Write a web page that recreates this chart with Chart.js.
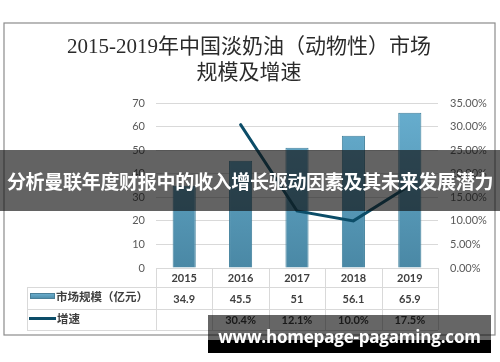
<!DOCTYPE html>
<html>
<head>
<meta charset="utf-8">
<script src="https://cdn.jsdelivr.net/npm/chart.js@4/dist/chart.umd.min.js"></script>
<style>
  body { margin:0; background:#fff; }
  #wrap { position:relative; width:500px; height:362px; overflow:hidden; }
  #banner { position:absolute; left:0; top:150px; width:500px; height:61px; background:rgba(15,15,15,0.65);
    color:#fff; font:bold 19px "Noto Sans CJK SC", sans-serif; line-height:61px; text-align:center; white-space:nowrap; letter-spacing:-0.3px; }
  #mark { position:absolute; left:208px; top:315px; width:283px; height:38px; background:rgba(0,0,0,0.6); overflow:hidden; }
  #mark .low { position:absolute; left:0; top:25px; width:100%; height:13px; background:#000; }
  #mark .txt { position:absolute; left:0; top:0; width:100%; height:38px; text-align:center;
    color:#fff; font:bold 17px "Open Sans", sans-serif; line-height:44px; white-space:nowrap; letter-spacing:-0.2px; }
</style>
</head>
<body>
<div id="wrap">
  <canvas id="c" width="500" height="362"></canvas>
  <div id="banner">分析曼联年度财报中的收入增长驱动因素及其未来发展潜力</div>
  <div id="mark"><div class="low"></div><div class="txt">www.homepage-pagaming.com</div></div>
</div>
<script>
// data
const years = ['2015', '2016', '2017', '2018', '2019'];
const marketSize = [34.9, 45.5, 51, 56.1, 65.9];      // 亿元
const growthRate = [null, 30.4, 12.1, 10.0, 17.5];    // %
const sizeLabel = '市场规模（亿元）';
const growthLabel = '增速';
const titleLines = ['2015-2019年中国淡奶油（动物性）市场', '规模及增速'];

const LINE = '#0c4d68';
const TXT = '#595959';
const GRID = '#d9d9d9';

function barGradient(ctx, area) {
  const g = ctx.createLinearGradient(0, area.top, 0, area.bottom);
  g.addColorStop(0, '#68afd0');
  g.addColorStop(1, '#4a88a5');
  return g;
}

const decor = {
  id: 'decor',
  beforeDraw(chart) {
    const ctx = chart.ctx;
    ctx.save();
    ctx.fillStyle = '#fff';
    ctx.fillRect(0, 0, chart.width, chart.height);
    ctx.strokeStyle = '#8c8c8c';
    ctx.lineWidth = 1.2;
    ctx.strokeRect(4, 23, 491, 312);
    // title
    ctx.fillStyle = '#2b2b2b';
    ctx.textAlign = 'center';
    ctx.textBaseline = 'middle';
    ctx.font = '21px "Liberation Serif", "Noto Sans CJK SC", serif';
    ctx.fillText(titleLines[0], 249, 47);
    ctx.fillText(titleLines[1], 249, 73);
    ctx.restore();
  },
  afterDraw(chart) {
    const ctx = chart.ctx;
    const x = chart.scales.x, a = chart.chartArea;
    const step = (a.right - a.left) / years.length;
    const r0 = a.bottom, r1 = 287, r2 = 309, r3 = 330, lx = 27;
    ctx.save();
    ctx.strokeStyle = GRID;
    ctx.lineWidth = 1;
    const h = (y, x0, x1) => { ctx.beginPath(); ctx.moveTo(x0, y + 0.5); ctx.lineTo(x1, y + 0.5); ctx.stroke(); };
    const v = (xx, y0, y1) => { ctx.beginPath(); ctx.moveTo(Math.round(xx) + 0.5, y0); ctx.lineTo(Math.round(xx) + 0.5, y1); ctx.stroke(); };
    h(r0, a.left, a.right);
    h(r1, lx, a.right);
    h(r2, lx, a.right);
    h(r3, lx, a.right);
    v(lx, r1, r3);
    for (let i = 0; i <= years.length; i++) v(a.left + i * step, r0, r3);

    ctx.fillStyle = '#404040';
    ctx.textAlign = 'center';
    ctx.textBaseline = 'middle';
    ctx.font = 'bold 11px Lato, sans-serif';
    years.forEach((yr, i) => {
      const cx = x.getPixelForValue(i);
      ctx.fillText(yr, cx, (r0 + r1) / 2 + 1);
      ctx.fillText(String(marketSize[i]), cx, (r1 + r2) / 2 + 1);
      if (growthRate[i] != null) ctx.fillText(growthRate[i].toFixed(1) + '%', cx, (r2 + r3) / 2 + 1);
    });

    // legend keys
    const g = ctx.createLinearGradient(0, 293, 0, 299);
    g.addColorStop(0, '#6fb3d3');
    g.addColorStop(1, '#4a88a5');
    ctx.fillStyle = g;
    ctx.fillRect(30, 293, 25, 6);
    ctx.strokeStyle = '#4a7f98';
    ctx.strokeRect(30.5, 293.5, 24, 5);
    ctx.strokeStyle = LINE;
    ctx.lineWidth = 3;
    ctx.beginPath(); ctx.moveTo(29, 318.5); ctx.lineTo(56, 318.5); ctx.stroke();

    ctx.fillStyle = '#404040';
    ctx.textAlign = 'left';
    ctx.font = 'bold 11.5px "Noto Sans CJK SC", sans-serif';
    ctx.fillText(sizeLabel, 56, 297);
    ctx.fillText(growthLabel, 57, 319);
    ctx.restore();
  }
};

new Chart(document.getElementById('c'), {
  data: {
    labels: years,
    datasets: [
      {
        type: 'line', label: growthLabel, data: growthRate, yAxisID: 'y1', order: 0,
        borderColor: LINE, borderWidth: 3, pointRadius: 0, tension: 0, spanGaps: false,
        borderCapStyle: 'round'
      },
      {
        type: 'bar', label: sizeLabel, data: marketSize, yAxisID: 'y', order: 1,
        backgroundColor: c => c.chart.chartArea ? barGradient(c.chart.ctx, c.chart.chartArea) : '#5a9cbd',
        borderColor: '#41809c', borderWidth: 1,
        categoryPercentage: 1, barPercentage: 0.41
      }
    ]
  },
  options: {
    responsive: false,
    animation: false,
    layout: { padding: { top: 103, bottom: 94, left: 0, right: 0 } },
    plugins: { legend: { display: false }, tooltip: { enabled: false } },
    scales: {
      x: { display: false },
      y: {
        position: 'left', min: 0, max: 70,
        ticks: { stepSize: 10, color: TXT, padding: 11, font: { family: 'Lato', size: 11 } },
        grid: { color: GRID, drawTicks: false },
        border: { display: false },
        afterFit: s => { s.width = 156; }
      },
      y1: {
        position: 'right', min: 0, max: 35,
        ticks: { stepSize: 5, color: TXT, padding: 12, font: { family: 'Lato', size: 11 }, callback: v => v.toFixed(2) + '%' },
        grid: { display: false, drawTicks: false },
        border: { display: false },
        afterFit: s => { s.width = 62; }
      }
    }
  },
  plugins: [decor]
});
</script>
</body>
</html>
